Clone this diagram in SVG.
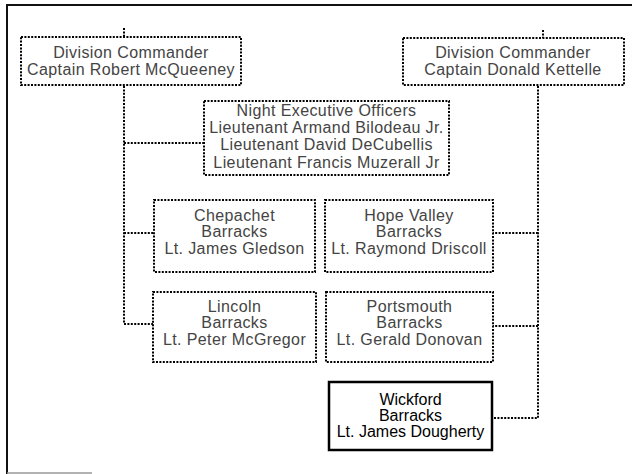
<svg xmlns="http://www.w3.org/2000/svg" width="637" height="474" viewBox="0 0 637 474">
<style>
.frame{fill:none;stroke:#111;stroke-width:2}
.dbox{fill:none;stroke:#000;stroke-width:2;stroke-dasharray:2 1.4}
.conn{fill:none;stroke:#000;stroke-width:2;stroke-dasharray:2 1.4}
.dt{font-family:"Liberation Sans",Arial,sans-serif;font-size:16px;fill:#444;text-anchor:middle;letter-spacing:0.4px}
.st{font-family:"Liberation Sans",Arial,sans-serif;font-size:16px;fill:#000;text-anchor:middle}
.sbox{fill:#fff;stroke:#000;stroke-width:2.5}
</style>
<rect width="637" height="474" fill="#fff"/>
<g id="frame">
<line class="frame" x1="7" y1="4" x2="7" y2="474"/>
<line class="frame" x1="6" y1="5" x2="632" y2="5"/>
<line x1="7" y1="473" x2="92" y2="473" stroke="#999" stroke-width="1.5"/>
</g>
<g id="connectors">
<line class="conn" x1="124" y1="28" x2="124" y2="36"/>
<line class="conn" x1="543" y1="30" x2="543" y2="38"/>
<polyline class="conn" points="124,86 124,324 153,324"/>
<line class="conn" x1="124" y1="143" x2="204" y2="143"/>
<line class="conn" x1="124" y1="233" x2="154" y2="233"/>
<polyline class="conn" points="538,86 538,418 493,418"/>
<line class="conn" x1="538" y1="233" x2="493" y2="233"/>
<line class="conn" x1="538" y1="326" x2="493" y2="326"/>
</g>
<g id="mcqueeney">
<rect class="dbox" x="21" y="37" width="220" height="48"/>
<text class="dt" x="131" y="58">Division Commander</text>
<text class="dt" x="131" y="75">Captain Robert McQueeney</text>
</g>
<g id="kettelle">
<rect class="dbox" x="403" y="38" width="221" height="47"/>
<text class="dt" x="513" y="58">Division Commander</text>
<text class="dt" x="513" y="75">Captain Donald Kettelle</text>
</g>
<g id="night-exec">
<rect class="dbox" x="204" y="101" width="245" height="74"/>
<text class="dt" x="326.5" y="116">Night Executive Officers</text>
<text class="dt" x="326.5" y="133">Lieutenant Armand Bilodeau Jr.</text>
<text class="dt" x="326.5" y="150">Lieutenant David DeCubellis</text>
<text class="dt" x="326.5" y="168">Lieutenant Francis Muzerall Jr</text>
</g>
<g id="chepachet">
<rect class="dbox" x="154" y="200" width="161" height="72"/>
<text class="dt" x="234.5" y="221">Chepachet</text>
<text class="dt" x="234.5" y="237">Barracks</text>
<text class="dt" x="234.5" y="254">Lt. James Gledson</text>
</g>
<g id="hope-valley">
<rect class="dbox" x="325" y="200" width="168" height="72"/>
<text class="dt" x="409" y="221">Hope Valley</text>
<text class="dt" x="409" y="237">Barracks</text>
<text class="dt" x="409" y="254">Lt. Raymond Driscoll</text>
</g>
<g id="lincoln">
<rect class="dbox" x="153" y="292" width="163" height="70"/>
<text class="dt" x="234.5" y="312">Lincoln</text>
<text class="dt" x="234.5" y="328">Barracks</text>
<text class="dt" x="234.5" y="345">Lt. Peter McGregor</text>
</g>
<g id="portsmouth">
<rect class="dbox" x="326" y="292" width="167" height="70"/>
<text class="dt" x="409.5" y="312">Portsmouth</text>
<text class="dt" x="409.5" y="328">Barracks</text>
<text class="dt" x="409.5" y="345">Lt. Gerald Donovan</text>
</g>
<g id="wickford">
<rect class="sbox" x="329" y="382" width="163" height="68"/>
<text class="st" x="410.5" y="405">Wickford</text>
<text class="st" x="410.5" y="421">Barracks</text>
<text class="st" x="410.5" y="437">Lt. James Dougherty</text>
</g>
</svg>
